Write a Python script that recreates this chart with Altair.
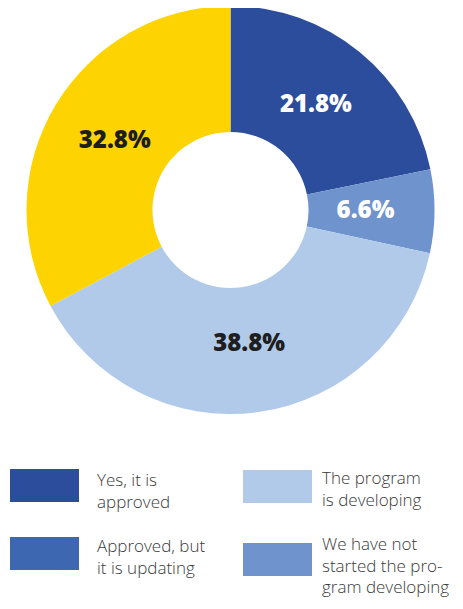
import altair as alt
import pandas as pd

# ---- donut data ----
slice_names = ["Yes, it is approved", "We have not started the program developing",
               "The program is developing", "Other"]
slice_values = [21.8, 6.6, 38.8, 32.8]

# ---- legend data ----
legend_names = ["Yes, it is approved", "The program is developing",
                "Approved, but it is updating", "We have not started the program developing"]
legend_lines = [["Yes, it is", "approved"], ["The program", "is developing"],
                ["Approved, but", "it is updating"], ["We have not", "started the pro-", "gram developing"]]
legend_col = [0, 1, 0, 1]

palette_domain = ["Yes, it is approved", "Approved, but it is updating",
                  "The program is developing", "We have not started the program developing", "Other"]
palette_range = ["#2c4c9c", "#3d67b1", "#b1caea", "#6f93cc", "#fdd402"]

color_scale = alt.Scale(domain=palette_domain, range=palette_range)

pie_df = pd.DataFrame({"name": slice_names, "value": slice_values,
                       "idx": list(range(len(slice_names)))})
leg_df = pd.DataFrame({"name": legend_names, "lines": legend_lines,
                       "col": legend_col, "slot": list(range(len(legend_names)))})

CX, CY = 222.5, 202

base = alt.Chart(pie_df).encode(
    theta=alt.Theta("value:Q", stack=True),
    order=alt.Order("idx:Q"),
    x=alt.value(CX), y=alt.value(CY),
)

arc = base.mark_arc(radius=204, radius2=78).encode(
    color=alt.Color("name:N", scale=color_scale, legend=None)
)

labels = base.transform_calculate(
    lab="format(datum.value, '.1f') + '%'"
).mark_text(radius=135, fontSize=24, fontWeight=800, font="Open Sans").encode(
    text="lab:N",
    color=alt.condition(alt.datum.idx < 2, alt.value("#ffffff"), alt.value("#1e1e1e")),
)

leg_rect = alt.Chart(leg_df).mark_rect(width=69, height=33).encode(
    x=alt.X("col:Q", scale=alt.Scale(domain=[0, 1], range=[36.5, 269.5]), axis=None),
    y=alt.Y("slot:Q", scale=alt.Scale(domain=[0, 1, 2, 3], range=[477.5, 478.5, 545.5, 551.5]), axis=None),
    color=alt.Color("name:N", scale=color_scale, legend=None),
)

leg_text = alt.Chart(leg_df).mark_text(
    align="left", baseline="top", fontSize=17, lineHeight=21.5,
    font="Open Sans", fontWeight=300, color="#3a3a3a"
).encode(
    x=alt.X("col:Q", scale=alt.Scale(domain=[0, 1], range=[89, 314]), axis=None),
    y=alt.Y("slot:Q", scale=alt.Scale(domain=[0, 1, 2, 3], range=[465, 463, 531, 529]), axis=None),
    text="lines",
)

donut = alt.layer(arc, labels)
legend = alt.layer(leg_rect, leg_text).resolve_scale(x="independent", y="independent")

chart = alt.layer(donut, legend).resolve_scale(
    x="independent", y="independent", color="shared"
).properties(
    width=447, height=593, padding=0,
    autosize=alt.AutoSizeParams(type="none")
).configure_view(stroke=None)

chart.save("out.html", embed_options={"renderer": "svg", "actions": False})
